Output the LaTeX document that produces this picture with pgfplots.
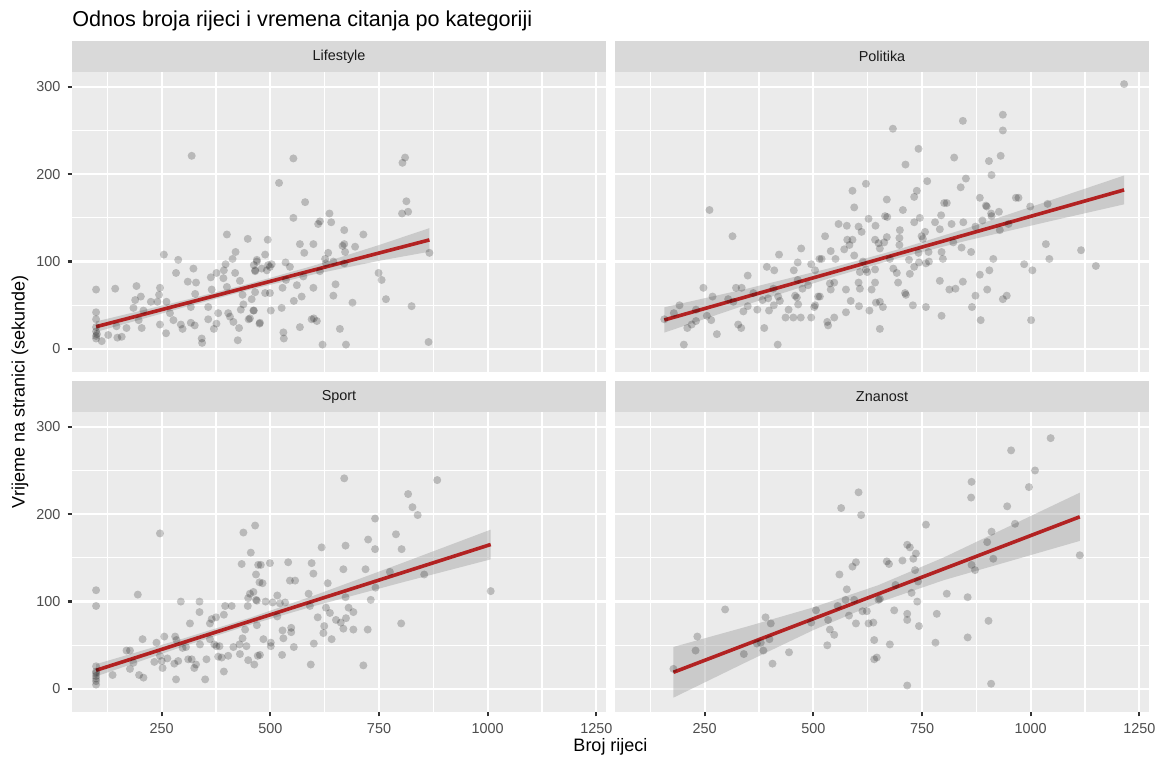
\documentclass[border=0pt]{standalone}
\usepackage{fontspec}
\setmainfont{Liberation Sans}
\usepackage{pgfplots}
\pgfplotsset{compat=1.18}
\definecolor{panelbg}{HTML}{EBEBEB}
\definecolor{stripbg}{HTML}{D9D9D9}
\definecolor{ticklab}{HTML}{4D4D4D}
\definecolor{tickcol}{HTML}{333333}
\definecolor{striptext}{HTML}{1A1A1A}
\definecolor{fireb}{HTML}{B22222}
\definecolor{ribbon}{HTML}{999999}
\pgfplotsset{
 facet/.style={
  scale only axis, width=267pt, height=150pt,
  xmin=43.6, xmax=1272.3, ymin=-26.3, ymax=316.9,
  axis background/.style={fill=panelbg},
  axis line style={draw=none},
  xtick={250,500,750,1000,1250}, ytick={0,100,200,300},
  minor xtick={125,375,625,875,1125}, minor ytick={-50,50,150,250},
  grid=both,
  major grid style={white, line width=1.1pt},
  minor grid style={white, line width=0.55pt},
  tick align=outside, major tick length=2.25pt, minor tick length=0pt,
  major tick style={tickcol, line width=1.1pt},
  xtick pos=bottom, ytick pos=left,
  tick label style={font=\fontsize{7.2}{8}\selectfont, text=ticklab},
  xticklabels={250,500,750,1000,1250},
  yticklabels={0,100,200,300},
 },
 notx/.style={xticklabels={}, major x tick style={draw=none}},
 noty/.style={yticklabels={}, major y tick style={draw=none}},
 pts/.style={only marks, mark=*, mark size=2pt, color=black, draw opacity=0, fill opacity=0.21, mark options={draw opacity=0, line width=0pt, fill=black, fill opacity=0.21}},
 rib/.style={draw=none, fill=ribbon, fill opacity=0.4},
 fit/.style={fireb, line width=1.8pt, no marks},
}
\newcommand{\strip}[2]{%
  \fill[stripbg] (#1.north west) rectangle ([yshift=15.5pt]#1.north east);
  \node[font=\fontsize{7.2}{8}\selectfont, text=striptext] at ([yshift=7.75pt]#1.north) {#2};}
\begin{document}
\begin{tikzpicture}
\fill[white] (0,0) rectangle (581.5pt,379pt);
% Lifestyle
\begin{axis}[facet, notx, name=tl, at={(36pt,193pt)}, anchor=south west]
\addplot[pts] coordinates {
(319,221) (99,68) (143,69) (99,42) (99,34) (99,25) (99,20) (99,15) (99,12) (101,17) (112,9) (127,16) (146,26) (148,13) (158,14) (169,24) (185,47) (192,72) (202,60) (189,56) (197,33) (204,24) (208,44) (225,54) (246,70) (244,62) (240,54) (246,28) (255,108) (260,18) (261,54) (269,41) (277,33) (283,87) (288,102) (294,28) (298,23) (310,77) (317,48) (323,92) (329,76) (327,63) (317,30) (326,27) (342,12) (343,7) (357,48) (357,34) (363,82) (365,68) (370,23) (376,87) (376,29) (380,41) (392,81) (393,90) (397,97) (400,131) (400,71) (403,41) (407,37) (413,103) (415,31) (420,111) (419,87) (428,24) (425,10) (430,78) (432,45) (436,62) (438,51) (448,126) (450,34) (457,57) (461,44) (462,96) (469,102) (465,89) (475,29)
(553,218) (520,190) (580,168) (553,150) (610,143) (614,146) (636,155) (640,145) (670,136) (714,131) (804,213) (810,219) (813,169) (817,157) (803,155) (866,110) (864,8) (825,49) (766,57) (756,79) (749,87) (689,53) (650,74) (645,61) (674,5) (660,23) (620,5) (600,35) (607,32) (568,25) (530,19) (531,12) (526,47) (554,55) (572,60) (561,73) (576,83) (599,70) (614,89) (626,103) (633,110) (628,98) (645,100) (666,118) (670,120) (672,111) (670,98) (695,117) (568,120) (578,110) (599,120) (535,99) (545,94) (499,94) (495,96) (503,97) (488,108) (494,125) (469,100) (465,90) (480,92) (492,90) (536,79) (528,70) (499,64) (488,64) (465,65) (462,44) (501,44) (476,30) (453,35) (595,34)
};
\addplot[rib] coordinates {(99,31.5) (300,55.5) (450,74.5) (600,95.4) (750,118.9) (866,138.3) (866,111.3) (750,100.9) (600,85.4) (450,67.5) (300,47.5) (99,19.5)} --cycle;
\addplot[fit] coordinates {(99,25.5) (866,124.8)};
\end{axis}
\strip{tl}{Lifestyle}
% Politika
\begin{axis}[facet, notx, noty, name=tr, at={(307.5pt,193pt)}, anchor=south west]
\addplot[pts] coordinates {
(261,159) (314,129) (157,34) (192,50) (179,41) (202,5) (210,24) (220,28) (230,32) (230,45) (247,70) (255,38) (265,33) (268,60) (278,17) (304,57) (316,54) (322,70) (335,70) (327,28) (334,24) (339,43) (349,84) (349,49) (362,64) (371,45) (383,56) (387,24) (393,94) (396,58) (398,44) (408,69) (409,50) (410,90) (419,60) (421,108) (423,55) (418,5) (436,36) (443,45) (454,36) (455,90) (458,61) (462,59) (465,51) (471,36) (464,79) (464,99) (472,115) (475,69) (488,73) (495,97) (495,36) (502,48) (504,90) (514,103) (511,60)
(515,60) (504,50) (532,31) (534,27) (548,36) (538,75) (548,76) (540,68) (519,103) (527,129) (540,112) (551,103) (558,143) (571,114) (577,141) (578,125) (583,119) (590,125) (594,107) (594,162) (590,181) (575,68) (575,42) (586,55) (605,49) (607,69) (604,76) (607,88) (604,140) (611,134) (614,100) (621,189) (621,91) (624,88) (627,149) (629,44) (634,68) (642,91) (642,125) (643,141) (644,53) (642,76) (650,121) (653,115) (653,54) (660,48) (653,23) (663,122) (665,152) (669,171) (669,128) (670,151) (676,103) (683,252) (684,92) (692,87) (695,76) (698,127) (698,119) (699,136) (706,159) (712,211) (711,64) (713,62) (720,102) (722,86) (729,50) (732,94) (732,174) (732,145) (738,181) (742,229) (742,110) (743,99) (745,150) (749,129) (752,126) (757,134) (759,48) (759,98) (762,192) (765,111) (766,100) (780,145) (791,137) (794,153) (791,78) (795,38) (795,111) (798,103) (801,167) (807,167) (813,68) (818,143) (822,122) (824,219) (827,69) (839,185) (841,116) (844,77) (844,261) (845,145) (851,195) (863,111) (865,48) (873,140) (873,61) (883,173) (883,85) (885,33) (889,147) (897,164) (899,163) (904,215) (905,90) (909,155) (910,199) (910,152) (914,103) (900,68) (927,157) (929,136) (931,221) (936,250) (936,268) (936,57) (945,61) (949,143)
(1215,303) (966,173) (972,173) (999,163) (1039,166) (1035,120) (1043,103) (1116,113) (985,97) (1004,90) (1150,95) (1001,33)
};
\addplot[rib] coordinates {(157,47.7) (350,69.3) (550,94) (700,114.6) (850,137.6) (1050,170.8) (1215,198.5) (1215,165.5) (1050,146.8) (850,123.6) (700,104.6) (550,83) (350,51.3) (157,18.7)} --cycle;
\addplot[fit] coordinates {(157,33.2) (1215,182)};
\end{axis}
\strip{tr}{Politika}
% Sport
\begin{axis}[facet, name=bl, at={(36pt,23pt)}, anchor=south west]
\addplot[pts] coordinates {
(99,113) (99,95) (99,26) (99,20) (99,15) (99,9) (99,5) (99,12) (99,18) (137,16) (169,44) (177,44) (177,23) (185,30) (195,108) (198,16) (208,13) (206,57) (233,31) (238,53) (246,178) (246,38) (250,32) (252,24) (256,60) (263,35) (279,29) (281,60) (284,56) (283,11) (288,32) (294,100) (298,47) (306,48) (311,34) (315,75) (319,34) (325,24) (329,28) (337,100) (337,88) (338,51) (350,11) (353,34) (361,75) (361,57) (365,80) (371,51) (375,82) (376,49) (380,37) (383,49) (388,36) (393,85) (393,20) (396,95) (403,38) (411,95) (415,48) (429,51) (430,40) (434,143) (438,179) (436,58) (442,68) (445,49) (448,95) (449,104) (455,156) (453,109) (449,33) (461,111) (465,187) (467,131) (469,101) (463,28) (472,142) (471,38) (475,122)
(478,142) (499,144) (482,121) (541,145) (545,124) (557,124) (595,144) (599,132) (618,162) (670,241) (673,164) (668,137) (632,121) (719,137) (725,171) (741,195) (741,160) (789,177) (802,160) (817,223) (827,208) (839,199) (884,239) (775,134) (854,131) (742,116) (731,102) (1007,112) (801,75) (714,27) (593,28) (527,39) (476,39) (484,57) (501,53) (501,49) (469,73) (467,102) (489,100) (505,99) (516,107) (522,98) (534,99) (516,83) (528,67) (530,58) (548,70) (548,65) (554,48) (588,109) (591,95) (600,52) (609,82) (624,72) (622,64) (628,93) (637,87) (641,57) (651,79) (662,76) (668,69) (674,81) (673,105) (680,93) (691,88) (691,68) (724,68)
};
\addplot[rib] coordinates {(99,28.4) (300,57.8) (450,81) (600,106.8) (800,143.5) (1007,182.3) (1007,148.3) (800,121.5) (600,94.8) (450,73) (300,48.8) (99,14.4)} --cycle;
\addplot[fit] coordinates {(99,21.4) (1007,165.3)};
\end{axis}
\strip{bl}{Sport}
% Znanost
\begin{axis}[facet, noty, name=br, at={(307.5pt,23pt)}, anchor=south west]
\addplot[pts] coordinates {
(178,23) (229,44) (233,60) (297,91) (340,40) (370,52) (379,53) (390,82) (402,75) (399,57) (385,44) (406,29) (444,42) (495,76) (506,90) (532,50) (534,79) (538,68) (548,62) (556,95) (560,131) (564,207) (574,102) (577,114) (582,84) (590,140) (598,145) (594,102) (598,75) (604,225) (610,199) (613,89) (623,89) (627,75) (638,76) (640,56) (640,34) (646,36) (650,102) (653,103) (669,146) (674,143) (676,51) (686,90) (689,119) (705,147) (716,165) (722,162) (730,149) (736,155) (734,136) (741,123) (726,110) (739,100) (716,86) (716,79) (743,72) (716,4) (759,188) (807,109) (784,86) (781,53) (855,105) (855,59) (864,237) (863,219) (864,142) (872,136) (900,168) (910,180) (914,149) (903,78) (909,6) (946,209) (955,273) (964,189) (996,231) (1010,250) (1046,287) (1113,153)
};
\addplot[rib] coordinates {(178,48.1) (350,71.8) (500,93.4) (650,118.9) (800,150.5) (950,186) (1113,224.6) (1113,169.4) (950,146) (800,124.5) (650,98.9) (500,67.4) (350,31.8) (178,-9.9)} --cycle;
\addplot[fit] coordinates {(178,19.1) (1113,197)};
\end{axis}
\strip{br}{Znanost}
% titles
\node[anchor=base west, inner sep=0pt, font=\fontsize{10.8}{12}\selectfont] at (36pt,365.5pt) {Odnos broja rijeci i vremena citanja po kategoriji};
\node[rotate=90, font=\fontsize{9}{10}\selectfont] at (10pt,183pt) {Vrijeme na stranici (sekunde)};
\node[font=\fontsize{9}{10}\selectfont] at (305.25pt,5.5pt) {Broj rijeci};
\pgfresetboundingbox
\path (0,0) rectangle (581.5pt,379pt);
\end{tikzpicture}
\end{document}
